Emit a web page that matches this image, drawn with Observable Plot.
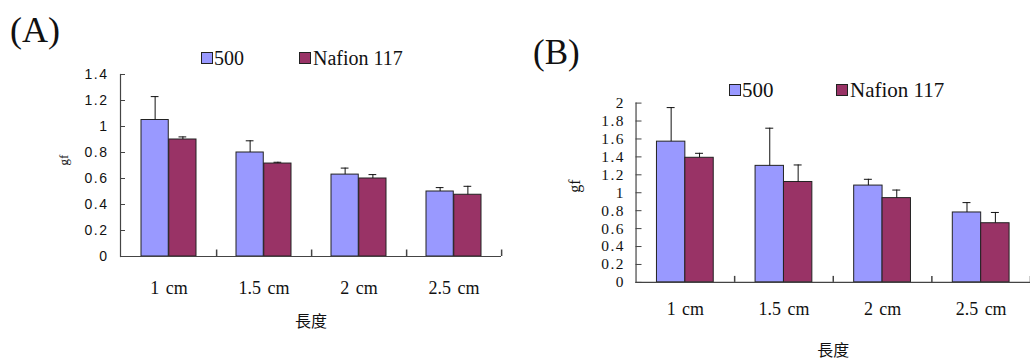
<!DOCTYPE html>
<html>
<head>
<meta charset="utf-8">
<script src="https://cdn.jsdelivr.net/npm/d3@7"></script>
<script src="https://cdn.jsdelivr.net/npm/@observablehq/plot@0.6"></script>
<style>
  html, body { margin: 0; padding: 0; background: #fff; overflow: hidden; }
  #root { position: relative; width: 1030px; height: 360px; background: #fff; }
  .abs { position: absolute; white-space: nowrap; line-height: 1; font-family: "Liberation Serif", serif; color: #111; }
  .sw { position: absolute; width: 10px; height: 10px; border: 1px solid #222; }
  .panel { position: absolute; top: 0; }
</style>
</head>
<body>
<div id="root"></div>
<script>
// ---- data ----
const categories = ["1 cm", "1.5 cm", "2 cm", "2.5 cm"];
const series = ["500", "Nafion 117"];
const colors = ["#9999FF", "#993366"];

// Panel (A)
const a500      = [1.05, 0.80, 0.63, 0.50];
const a500Sd    = [0.18, 0.09, 0.05, 0.03];
const aNafion   = [0.90, 0.715, 0.60, 0.475];
const aNafionSd = [0.02, 0.01, 0.03, 0.065];
const yTicksA   = [0, 0.2, 0.4, 0.6, 0.8, 1, 1.2, 1.4];

// Panel (B)
const b500      = [1.57, 1.30, 1.08, 0.78];
const b500Sd    = [0.38, 0.42, 0.07, 0.11];
const bNafion   = [1.39, 1.12, 0.94, 0.66];
const bNafionSd = [0.05, 0.19, 0.09, 0.12];
const yTicksB   = [0, 0.2, 0.4, 0.6, 0.8, 1, 1.2, 1.4, 1.6, 1.8, 2];

const yLabel = "gf";
const xLabel = "長度";

function rows(v500, s500, vNaf, sNaf) {
  const out = [];
  categories.forEach((c, i) => {
    out.push({category: c, series: series[0], value: v500[i], top: v500[i] + s500[i]});
    out.push({category: c, series: series[1], value: vNaf[i], top: vNaf[i] + sNaf[i]});
  });
  return out;
}

function panel(cfg) {
  const {data, yTicks, width, height, marginLeft, marginRight, marginTop, marginBottom,
         outer, barW, tickFont, tickSize, tickPad, catFont, catPad,
         yLabFont, yLabDx, xLabDy, sepLen} = cfg;
  const bw = (width - marginLeft - marginRight) / categories.length;
  const inner = bw - outer - barW;
  const off = (bw / 2) - outer - barW / 2;
  const capInset = (bw - 8) / 2;
  const d0 = data.filter(d => d.series === series[0]);
  const d1 = data.filter(d => d.series === series[1]);
  const axisColor = "#444";
  const p = Plot.plot({
    width, height, marginLeft, marginRight, marginTop, marginBottom,
    style: {background: "white", color: "#111", fontFamily: "Liberation Serif", overflow: "visible"},
    x: {type: "band", domain: categories, padding: 0, label: null},
    y: {domain: [0, yTicks[yTicks.length - 1]], label: null},
    marks: [
      Plot.barY(d0, {x: "category", y: "value", fill: colors[0], stroke: "#222", strokeWidth: 1,
        insetLeft: outer, insetRight: inner}),
      Plot.barY(d1, {x: "category", y: "value", fill: colors[1], stroke: "#222", strokeWidth: 1,
        insetLeft: inner, insetRight: outer}),
      Plot.ruleX(d0, {x: "category", y1: "value", y2: "top", dx: -off, stroke: "#111", strokeWidth: 1}),
      Plot.ruleX(d1, {x: "category", y1: "value", y2: "top", dx: off, stroke: "#111", strokeWidth: 1}),
      Plot.tickY(d0, {x: "category", y: "top", dx: -off, insetLeft: capInset, insetRight: capInset, stroke: "#111", strokeWidth: 1}),
      Plot.tickY(d1, {x: "category", y: "top", dx: off, insetLeft: capInset, insetRight: capInset, stroke: "#111", strokeWidth: 1}),
      // axis lines
      Plot.ruleY([0], {stroke: axisColor, strokeWidth: 1.2}),
      Plot.frame({anchor: "left", stroke: axisColor, strokeWidth: 1.2}),
      // category separator ticks
      Plot.ruleX(categories, {x: d => d, y1: 0, y2: sepLen, dx: bw / 2, stroke: axisColor, strokeWidth: 1.5}),
      // y ticks (inside) and labels
      Plot.axisY({ticks: yTicks, tickSize: tickSize, dx: tickSize, tickFormat: () => "", stroke: axisColor, label: null}),
      Plot.axisY({ticks: yTicks, tickSize: 0, tickPadding: tickPad, tickFormat: d => String(d),
        fontSize: tickFont, fontFamily: cfg.tickFamily, fill: "#111", label: null}),
      // category labels
      Plot.axisX({tickSize: 0, tickPadding: catPad, fontSize: catFont, fontFamily: "Liberation Serif", fill: "#111", label: null}),
      // axis titles
      Plot.text([yLabel], {frameAnchor: "left", dx: yLabDx, rotate: -90, fontSize: yLabFont, fontFamily: "Liberation Serif", fill: "#111"}),
      Plot.text([xLabel], {frameAnchor: "bottom", dy: xLabDy, fontSize: 16, fontFamily: "Noto Sans CJK TC", fill: "#111"})
    ]
  });
  // enforce tick label fonts
  p.querySelectorAll('g[aria-label^="y-axis"]').forEach(g => {
    g.style.fontFamily = cfg.tickFamily;
    g.style.fontSize = tickFont + "px";
    g.style.letterSpacing = "1.5px";
    g.querySelectorAll("text").forEach(t => {
      t.style.fontFamily = cfg.tickFamily;
      t.style.fontSize = tickFont + "px";
    });
  });
  p.querySelectorAll('g[aria-label^="x-axis"] text').forEach(t => {
    t.style.fontFamily = "Liberation Serif";
    t.style.wordSpacing = "2px";
  });
  return p;
}

const root = document.getElementById("root");

function addText(txt, left, top, size) {
  const el = document.createElement("div");
  el.className = "abs";
  el.textContent = txt;
  el.style.left = left + "px";
  el.style.top = top + "px";
  el.style.fontSize = size + "px";
  root.appendChild(el);
}
function addSwatch(left, top, color) {
  const el = document.createElement("div");
  el.className = "sw";
  el.style.left = left + "px";
  el.style.top = top + "px";
  el.style.background = color;
  root.appendChild(el);
}

// Panel A
const pa = panel({
  data: rows(a500, a500Sd, aNafion, aNafionSd), yTicks: yTicksA,
  width: 515, height: 360, marginLeft: 120, marginRight: 14, marginTop: 74, marginBottom: 104,
  outer: 20, barW: 27.5, tickFont: 14, tickFamily: "Liberation Sans", tickSize: 5, tickPad: 12,
  catFont: 18, catPad: 25, yLabFont: 13, yLabDx: -57, xLabDy: 70, sepLen: 0.05
});
const wa = document.createElement("div");
wa.className = "panel"; wa.style.left = "0px";
wa.appendChild(pa);
root.appendChild(wa);

// Panel B
const pb = panel({
  data: rows(b500, b500Sd, bNafion, bNafionSd), yTicks: yTicksB,
  width: 517, height: 360, marginLeft: 121, marginRight: 0, marginTop: 103, marginBottom: 77,
  outer: 21, barW: 28.5, tickFont: 15.5, tickFamily: "Liberation Serif", tickSize: 6, tickPad: 11,
  catFont: 18, catPad: 20, yLabFont: 16, yLabDx: -61, xLabDy: 74, sepLen: 0.067
});
const wb = document.createElement("div");
wb.className = "panel"; wb.style.left = "515px";
wb.appendChild(pb);
root.appendChild(wb);

// Titles
addText("(A)", 10, 12, 36);
addText("(B)", 533, 35, 35);

// Legends
addSwatch(201, 52, colors[0]);
addText(series[0], 214, 48, 20);
addSwatch(299, 52, colors[1]);
addText(series[1], 313, 48, 20);

addSwatch(729, 84, colors[0]);
addText(series[0], 742, 80, 21);
addSwatch(836, 84, colors[1]);
addText(series[1], 850, 80, 21);
</script>
</body>
</html>
